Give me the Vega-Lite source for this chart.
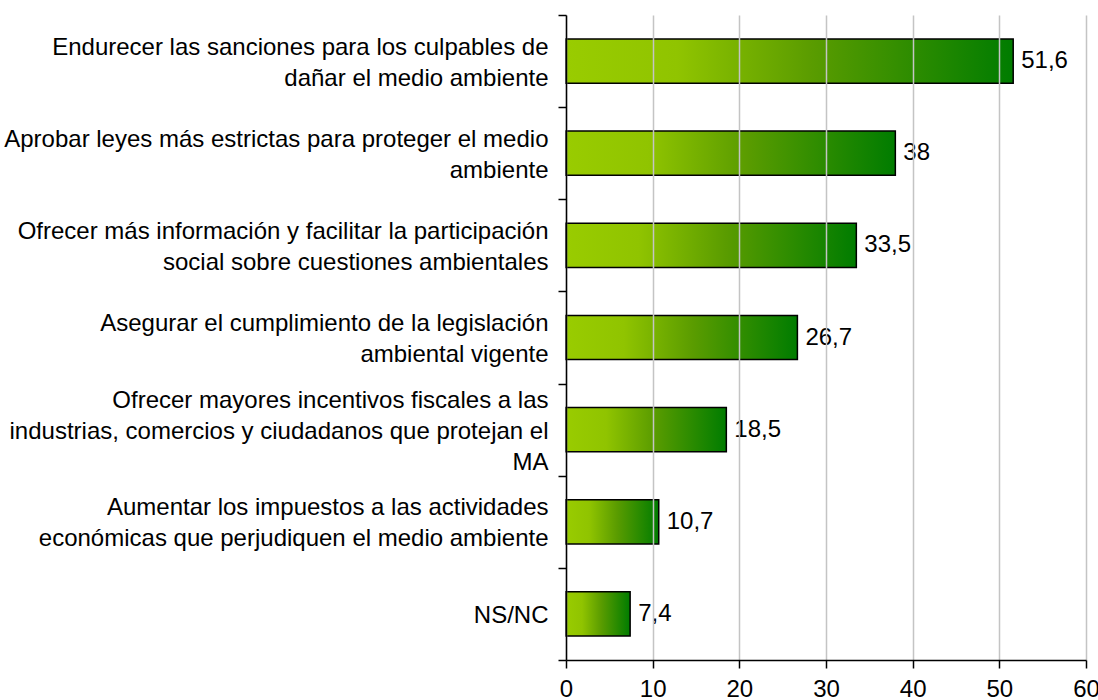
{
  "$schema": "https://vega.github.io/schema/vega-lite/v6.json",
  "width": 520,
  "height": 645,
  "autosize": {"type": "none"},
  "padding": {"left": 566, "top": 15, "right": 12, "bottom": 40},
  "background": "white",
  "data": {
    "values": [
      {"label": "Endurecer las sanciones para los culpables de|dañar el medio ambiente", "value": 51.6},
      {"label": "Aprobar leyes más estrictas para proteger el medio|ambiente", "value": 38},
      {"label": "Ofrecer más información y facilitar la participación|social sobre cuestiones ambientales", "value": 33.5},
      {"label": "Asegurar el cumplimiento de la legislación|ambiental vigente", "value": 26.7},
      {"label": "Ofrecer mayores incentivos fiscales a las|industrias, comercios y ciudadanos que protejan el|MA", "value": 18.5},
      {"label": "Aumentar los impuestos a las actividades|económicas que perjudiquen el medio ambiente", "value": 10.7},
      {"label": "NS/NC", "value": 7.4}
    ]
  },
  "encoding": {
    "y": {
      "field": "label",
      "type": "nominal",
      "sort": null,
      "scale": {"paddingInner": 0, "paddingOuter": 0},
      "axis": {
        "title": null,
        "labelExpr": "split(datum.label, '|')",
        "labelLimit": 0,
        "labelAlign": "right",
        "labelBaseline": "middle",
        "labelFont": "Liberation Sans",
        "labelFontSize": 24,
        "labelLineHeight": 31,
        "labelOffset": {"expr": "1.5 - (length(split(datum.value, '|')) - 1) * 15.5"},
        "labelColor": "black",
        "labelPadding": 10,
        "tickBand": "extent",
        "tickSize": 8,
        "tickColor": "black",
        "tickWidth": 1.5,
        "domainColor": "black",
        "domainWidth": 1.5,
        "zindex": 2
      }
    },
    "x": {
      "field": "value",
      "type": "quantitative",
      "scale": {"domain": [0, 60], "nice": false},
      "axis": {
        "title": null,
        "values": [0, 10, 20, 30, 40, 50, 60],
        "grid": true,
        "gridColor": "#C4C4C4",
        "gridWidth": 1.5,
        "labelFont": "Liberation Sans",
        "labelFontSize": 24,
        "labelColor": "black",
        "labelPadding": 9,
        "labelFlush": false,
        "tickSize": 8,
        "tickColor": "black",
        "tickWidth": 1.5,
        "domainColor": "black",
        "domainWidth": 1.5,
        "zindex": 1
      }
    }
  },
  "layer": [
    {
      "mark": {
        "type": "bar",
        "height": {"band": 0.48},
        "stroke": "black",
        "strokeWidth": 1.5,
        "color": {
          "gradient": "linear",
          "x1": 0, "y1": 0, "x2": 1, "y2": 0,
          "stops": [
            {"offset": 0, "color": "#99CC00"},
            {"offset": 0.25, "color": "#90C400"},
            {"offset": 0.55, "color": "#5A9C00"},
            {"offset": 1, "color": "#007C00"}
          ]
        }
      }
    },
    {
      "mark": {
        "type": "text",
        "align": "left",
        "baseline": "middle",
        "dx": 8,
        "font": "Liberation Sans",
        "fontSize": 24,
        "color": "black"
      },
      "encoding": {
        "text": {"field": "value", "type": "quantitative", "format": ".3~g"}
      }
    }
  ],
  "config": {
    "view": {"stroke": null},
    "locale": {
      "number": {"decimal": ",", "thousands": ".", "grouping": [3], "currency": ["", " €"]}
    }
  }
}
